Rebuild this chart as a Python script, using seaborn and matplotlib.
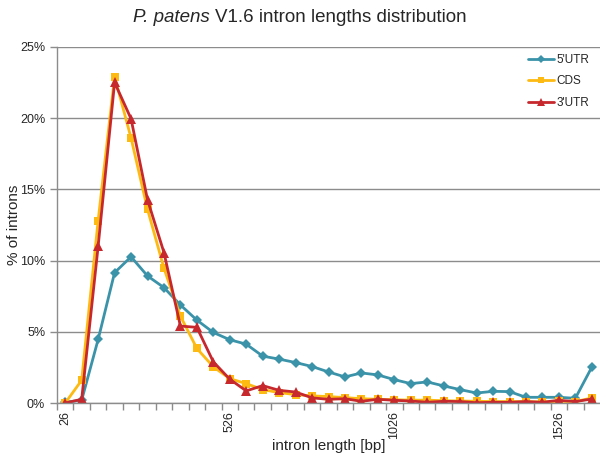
import matplotlib
matplotlib.use("Agg")
import matplotlib.pyplot as plt
import numpy as np
import pandas as pd
import seaborn as sns
from matplotlib.ticker import FuncFormatter, FixedLocator

# intron length bins (bp), one category every 50 bp
bins = [26, 76, 126, 176, 226, 276, 326, 376, 426, 476,
        526, 576, 626, 676, 726, 776, 826, 876, 926, 976,
        1026, 1076, 1126, 1176, 1226, 1276, 1326, 1376, 1426, 1476,
        1526, 1576, 1626]

# % of introns per bin
utr5 = [0.05, 0.2, 4.46, 9.15, 10.26, 8.92, 8.1, 6.88, 5.82, 4.95,
        4.44, 4.13, 3.29, 3.08, 2.84, 2.56, 2.18, 1.83, 2.11, 1.97,
        1.64, 1.36, 1.48, 1.20, 0.94, 0.70, 0.82, 0.80, 0.40, 0.40,
        0.40, 0.33, 2.51]
cds = [0.0, 1.6, 12.8, 22.9, 18.6, 13.6, 9.46, 6.1, 3.83, 2.54,
       1.71, 1.36, 0.94, 0.73, 0.59, 0.50, 0.45, 0.38, 0.30, 0.26,
       0.23, 0.20, 0.20, 0.16, 0.14, 0.12, 0.10, 0.10, 0.10, 0.07,
       0.12, 0.10, 0.35]
utr3 = [0.0, 0.26, 11.0, 22.5, 19.95, 14.27, 10.56, 5.4, 5.31, 2.89,
        1.67, 0.85, 1.22, 0.89, 0.77, 0.36, 0.26, 0.30, 0.12, 0.26,
        0.19, 0.14, 0.05, 0.12, 0.10, 0.02, 0.05, 0.05, 0.10, 0.05,
        0.19, 0.10, 0.28]

series = [
    ("5'UTR", utr5, "#3A93A9", "D", 5),
    ("CDS", cds, "#FDBA12", "s", 6),
    ("3'UTR", utr3, "#C6282D", "^", 7),
]

sns.set_theme(style="white")
plt.rcParams["font.family"] = ["Liberation Sans", "DejaVu Sans"]

fig = plt.figure(figsize=(6, 4.59), dpi=100)
ax = fig.add_axes([0.095, 0.122, 0.905, 0.776])

pos = np.arange(len(bins))
for name, vals, color, marker, ms in series:
    df = pd.DataFrame({"pos": pos, "pct": vals})
    sns.lineplot(data=df, x="pos", y="pct", ax=ax, color=color, marker=marker,
                 markersize=ms, markeredgecolor=color, markeredgewidth=0,
                 linewidth=2, label=name)

ax.set_xlim(-0.5, len(bins) - 0.5)
ax.set_ylim(0, 25)
ax.set_yticks([0, 5, 10, 15, 20, 25])
ax.yaxis.set_major_formatter(FuncFormatter(lambda v, p: f"{v:.0f}%"))
ax.grid(axis="y", color="#8C8C8C", linewidth=1)
ax.set_axisbelow(True)

label_idx = [0, 10, 20, 30]
ax.xaxis.set_major_locator(FixedLocator(label_idx))
ax.set_xticklabels([str(bins[i]) for i in label_idx], rotation=90)
ax.xaxis.set_minor_locator(FixedLocator(pos - 0.5))
ax.tick_params(axis="x", which="major", length=0, labelsize=9, pad=6)
ax.tick_params(axis="x", which="minor", length=5, width=1, color="#8C8C8C", bottom=True)
ax.tick_params(axis="y", which="major", length=5, width=1, color="#8C8C8C", left=True, labelsize=9)

for side in ["top", "right"]:
    ax.spines[side].set_visible(False)
for side in ["left", "bottom"]:
    ax.spines[side].set_color("#8C8C8C")
    ax.spines[side].set_linewidth(1)

ax.set_xlabel("intron length [bp]", fontsize=11, labelpad=0)
ax.set_ylabel("% of introns", fontsize=11)
ax.yaxis.set_label_coords(-0.066, 0.5)

ax.legend(loc="upper right", bbox_to_anchor=(1.0, 1.01), frameon=False,
          fontsize=8.5, handlelength=2.2, labelspacing=0.8, handletextpad=0.2,
          markerscale=0.8)

# title: italic species name followed by upright text, centred as a whole
renderer = fig.canvas.get_renderer()
t_it = fig.text(0, 0.962, "P. patens ", fontsize=13.5, style="italic", va="center")
t_rm = fig.text(0, 0.962, "V1.6 intron lengths distribution", fontsize=13.5, va="center")
w_it = t_it.get_window_extent(renderer).width / fig.bbox.width
w_rm = t_rm.get_window_extent(renderer).width / fig.bbox.width
x0 = 0.5 - (w_it + w_rm) / 2
t_it.set_x(x0)
t_rm.set_x(x0 + w_it)

fig.savefig("out.png", dpi=100)
